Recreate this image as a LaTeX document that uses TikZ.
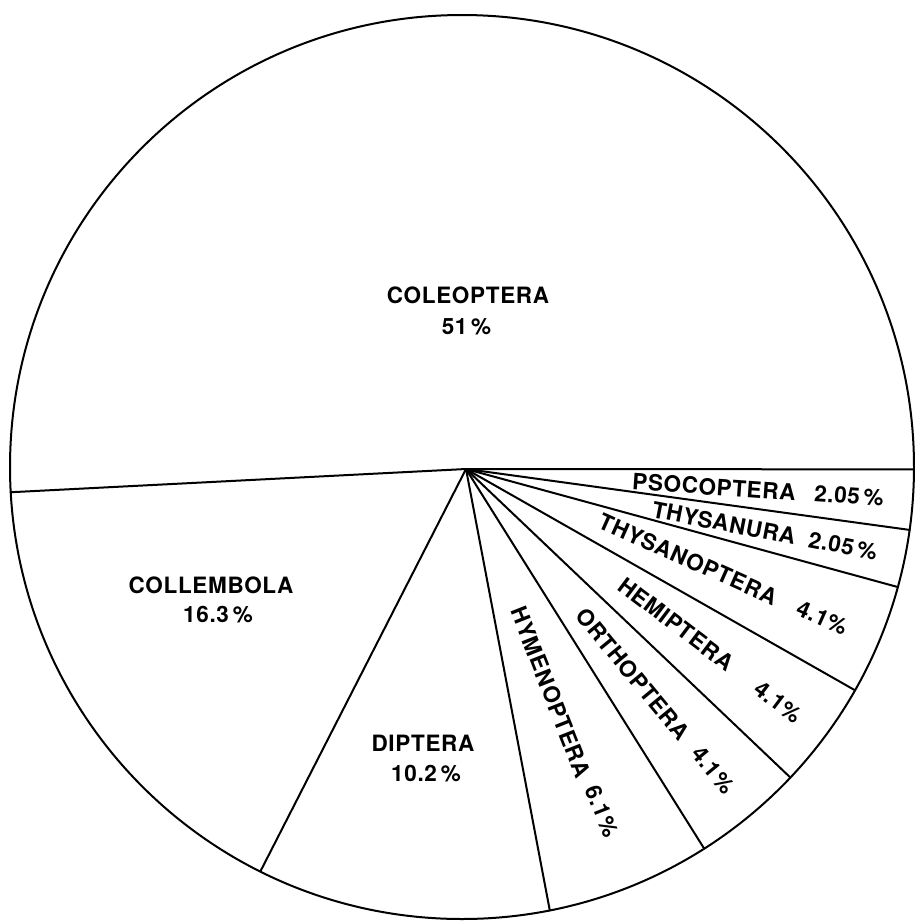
\documentclass[tikz,border=0pt]{standalone}
\usepackage{fontspec}
\setmainfont{TeX Gyre Heros}[LetterSpace=3]
\begin{document}
\begin{tikzpicture}[x=1pt,y=-1pt,
  edge/.style={line width=2pt, line cap=round},
  lbl/.style={font=\fontsize{22.5}{26}\selectfont\bfseries, inner sep=0pt, align=center}]
\useasboundingbox (0,0) rectangle (914,922);
\fill[white] (0,0) rectangle (914,922);
\coordinate (C) at (462,467);
\coordinate (O) at (466,469);
\draw[edge] (C) circle [radius=452pt];
\begin{scope}[shift={(462,467)}]
  \coordinate (p0) at (0.3:452);
  \coordinate (p1) at (8.0:452);
  \coordinate (p2) at (15.4:452);
  \coordinate (p3) at (29.6:452);
  \coordinate (p4) at (43.4:452);
  \coordinate (p5) at (57.6:452);
  \coordinate (p6) at (78.8:452);
  \coordinate (p7) at (116.5:452);
  \coordinate (p8) at (176.8:452);
\end{scope}
\foreach \p in {p0,p1,p2,p3,p4,p5,p6,p7,p8} \draw[edge] (O) -- (\p);

\node[lbl] (coleo) at (468,295) {COLEOPTERA};
\node[lbl] (coleop) at (466.5,327) {51\,\%};
\node[lbl] (colle) at (211,585) {COLLEMBOLA};
\node[lbl] (collep) at (218,615) {16.3\,\%};
\node[lbl] (dipt) at (423,743) {DIPTERA};
\node[lbl] (diptp) at (426,774) {10.2\,\%};

\node[lbl, rotate=-4] (psoc) at (714,487) {PSOCOPTERA};
\node[lbl, rotate=-4] (psocp) at (849,496) {2.05\,\%};
\node[lbl, rotate=-11] (thnu) at (724,523) {THYSANURA};
\node[lbl, rotate=-11] (thnup) at (843,546) {2.05\,\%};
\node[lbl, rotate=-24] (thop) at (688,559) {THYSANOPTERA};
\node[lbl, rotate=-24] (thopp) at (822,618) {4.1\%};
\node[lbl, rotate=-37] (hemi) at (676,624) {HEMIPTERA};
\node[lbl, rotate=-37] (hemip) at (778,702) {4.1\%};
\node[lbl, rotate=-50.5] (orth) at (633,674) {ORTHOPTERA};
\node[lbl, rotate=-50.5] (orthp) at (713,770) {4.1\%};
\node[lbl, rotate=-68.5] (hyme) at (551,692) {HYMENOPTERA};
\node[lbl, rotate=-68.5] (hymep) at (602,811) {6.1\%};
\end{tikzpicture}
\end{document}
